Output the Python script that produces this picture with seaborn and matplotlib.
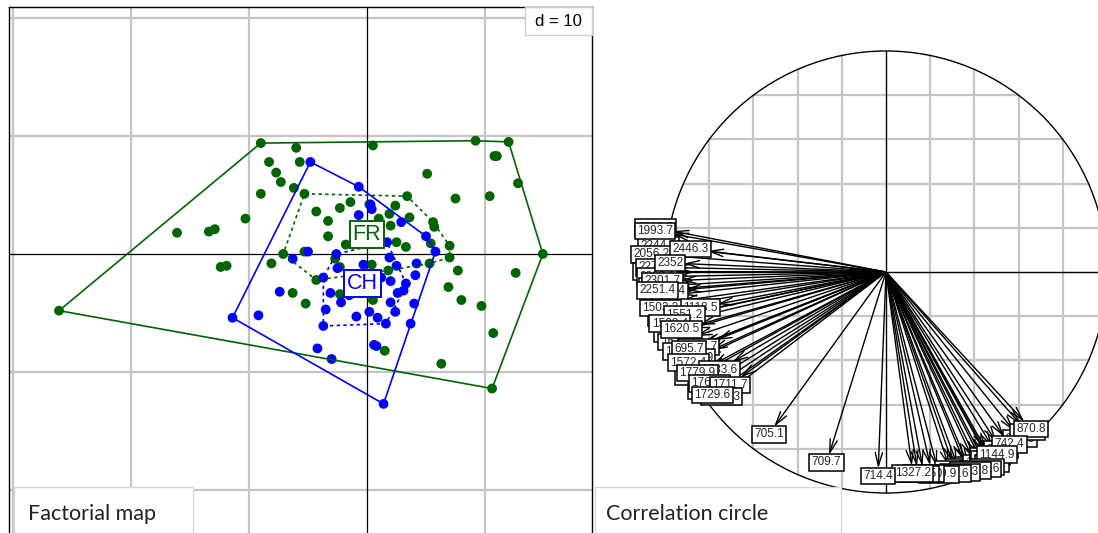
import numpy as np
import pandas as pd
import matplotlib
matplotlib.use("Agg")
import matplotlib.pyplot as plt
from matplotlib.patches import Rectangle, Circle
import seaborn as sns

# ---------------- data ----------------
fr_x = [-26.1, -9.0, -6.0, -8.3, -5.7, -7.7, -7.3, -6.2, -9.0, -5.3,
        -10.3, -16.1, -13.4, -12.9, -4.3, -2.3, -1.4, -3.3, -3.3, -1.8,
        -7.1, -5.3, -8.1, -12.4, -11.9, -2.7, 0.5, 9.2, 12.0, 10.8,
        11.0, 5.1, 12.8, 3.4, 7.5, 10.4, 0.2, 2.4, 1.9, 1.0,
        3.6, 2.0, 5.6, 5.7, 5.4, 2.5, 3.3, 7.0, 14.9, 7.0,
        5.3, 7.7, -4.3, -6.3, -5.2, -2.3, 12.6, 6.9, 8.0, 9.7,
        10.7, 6.3, 10.6, 1.8, 0.4, 0.5, 1.5, -2.3]
fr_y = [-4.8, 9.4, 9.0, 7.8, 7.8, 6.9, 6.1, 5.6, 5.1, 5.1,
        3.0, 1.8, 1.9, 2.1, 3.6, 3.9, 4.4, 2.8, 1.5, 0.8,
        0.0, 0.2, -0.8, -1.1, -1.0, -0.4, 9.2, 9.6, 9.5, 8.3,
        8.3, 6.8, 6.0, 4.9, 4.7, 4.9, 4.2, 4.1, 3.4, 3.0,
        3.1, 2.4, 2.7, 2.3, 0.9, 1.0, 0.6, 0.7, 0.0, -0.3,
        -0.8, -1.4, -2.2, -3.3, -4.2, -3.4, -1.6, -2.8, -3.9, -4.4,
        -6.7, -9.3, -11.4, -1.4, -0.9, -3.9, -8.2, -1.1]
ch_x = [-4.8, -0.7, 0.3, 0.4, -0.7, 2.9, 5.0, 5.8, 1.7, -6.3,
        -5.0, -2.6, -2.5, -3.7, -0.3, 1.9, 2.5, 4.2, 4.1, 3.3,
        3.1, 2.6, 2.0, 2.4, 4.0, 3.7, -7.4, -3.1, -2.2, -1.5,
        -3.5, -0.9, 0.2, 0.9, 1.6, -3.7, -9.2, -11.4, -4.2, -3.0,
        0.6, 0.8, 1.4, 2.0, 1.2]
ch_y = [7.8, 5.7, 4.2, 3.8, 3.3, 2.7, 1.5, 0.2, 1.0, -0.4,
        0.2, 0.0, -1.2, -2.0, -0.9, -0.3, -1.0, -0.8, -1.8, -2.5,
        -3.1, -3.3, -4.1, -4.9, -4.2, -5.9, -3.2, -3.3, -4.1, -3.5,
        -4.7, -5.3, -4.9, -5.4, -5.9, -6.1, -5.2, -5.4, -8.0, -8.9,
        -7.7, -7.8, -12.7, -2.3, -2.0]
classes = ["FR", "CH"]
class_colors = {"FR": "#006400", "CH": "#0000FF"}
hull_levels = [1.0, 0.5]

var_labels = [
    "2013.6", "2244.6", "2056.2", "2347.3", "2276.5", "2398.1", "2180.3", "2120.9",
    "1465.0", "1401.4", "1452.7", "1635.2", "1681.3", "1744.5", "1591.8",
    "1993.7", "2446.3", "2352", "2301.7", "2263.4", "2251.4", "1118.5", "1503.3",
    "1551.2", "1528.4", "1620.5", "1647.7", "1700.9", "695.7", "1572.4", "1783.6",
    "1779.9", "1762.7", "1711.7", "1733.3", "1729.6",
    "1083.0", "1062.5", "1125.6", "1245.9", "932.8", "905.5", "1150.1", "1160.2",
    "864.1", "870.8", "742.4", "977.1", "962.2", "1144.9", "997.7", "1016.6",
    "1035.8", "1053.3", "1101.6", "1190.9", "1316.0", "1301.5", "1327.2",
    "714.4", "709.7", "705.1"]
var_x = [
    -0.965, -0.951, -0.985, -0.975, -0.960, -0.955, -0.948, -0.930,
    -0.925, -0.905, -0.880, -0.860, -0.840, -0.800, -0.755,
    -0.967, -0.808, -0.916, -0.932, -0.912, -0.957, -0.764, -0.942,
    -0.833, -0.901, -0.848, -0.769, -0.790, -0.825, -0.821, -0.696,
    -0.790, -0.745, -0.658, -0.699, -0.739,
    0.390, 0.350, 0.300, 0.200, 0.500, 0.580, 0.420, 0.450,
    0.610, 0.626, 0.535, 0.445, 0.459, 0.482, 0.440, 0.413,
    0.368, 0.322, 0.284, 0.231, 0.165, 0.140, 0.117,
    -0.035, -0.258, -0.506]
var_y = [
    0.185, 0.110, 0.074, 0.002, 0.020, -0.020, -0.060, -0.100,
    -0.130, -0.190, -0.255, -0.290, -0.330, -0.440, -0.505,
    0.172, 0.095, 0.038, -0.038, -0.080, -0.077, -0.146, -0.151,
    -0.177, -0.215, -0.238, -0.308, -0.354, -0.323, -0.377, -0.408,
    -0.423, -0.469, -0.477, -0.531, -0.523,
    -0.840, -0.850, -0.860, -0.875, -0.770, -0.720, -0.830, -0.800,
    -0.690, -0.677, -0.746, -0.815, -0.831, -0.792, -0.848, -0.858,
    -0.865, -0.872, -0.878, -0.882, -0.878, -0.880, -0.877,
    -0.889, -0.828, -0.700]

grid_d = 10
corr_grid = 0.2

# ---------------- helpers ----------------
def convex_hull(points):
    pts = sorted(set(points))
    if len(pts) <= 2:
        return pts
    def cross(o, a, b):
        return (a[0]-o[0])*(b[1]-o[1]) - (a[1]-o[1])*(b[0]-o[0])
    lower, upper = [], []
    for p in pts:
        while len(lower) >= 2 and cross(lower[-2], lower[-1], p) <= 0:
            lower.pop()
        lower.append(p)
    for p in reversed(pts):
        while len(upper) >= 2 and cross(upper[-2], upper[-1], p) <= 0:
            upper.pop()
        upper.append(p)
    return lower[:-1] + upper[:-1]


def peeled_hull(points, frac):
    pts = list(points)
    n0 = len(pts)
    while len(pts) > n0 * frac and len(pts) > 3:
        h = set(convex_hull(pts))
        pts = [p for p in pts if p not in h]
    return convex_hull(pts)


# ---------------- figure ----------------
sns.set_theme(style="white")
plt.rcParams['font.family'] = ['Liberation Sans', 'DejaVu Sans']

W, H = 1098, 533
fig = plt.figure(figsize=(W/100, H/100), dpi=100)
fig.patch.set_facecolor("white")

# ---- left panel: factorial map ----
px_unit = 11.8
cx_px, cy_px = 367, 254
l_px, r_px, t_px, b_px = 8.5, 592, 7, 545
ax1 = fig.add_axes([l_px/W, 1 - b_px/H, (r_px-l_px)/W, (b_px-t_px)/H])
ax1.set_xlim((l_px-cx_px)/px_unit, (r_px-cx_px)/px_unit)
ax1.set_ylim((cy_px-b_px)/px_unit, (cy_px-t_px)/px_unit)
ax1.set_xticks([]); ax1.set_yticks([])
for s in ax1.spines.values():
    s.set_color("black"); s.set_linewidth(1.0); s.set_visible(True)

for g in [-30, -20, -10, 10]:
    ax1.axvline(g, color="#C4C4C4", lw=1.6, zorder=0)
for g in [20, 10, -10, -20]:
    ax1.axhline(g, color="#C4C4C4", lw=1.6, zorder=0)
ax1.axvline(0, color="black", lw=0.9, zorder=1)
ax1.axhline(0, color="black", lw=0.9, zorder=1)

df = pd.DataFrame({
    "x": fr_x + ch_x,
    "y": fr_y + ch_y,
    "cls": ["FR"]*len(fr_x) + ["CH"]*len(ch_x)})

sns.scatterplot(data=df, x="x", y="y", hue="cls", palette=class_colors,
                hue_order=classes, s=50, linewidth=0, legend=False, ax=ax1, zorder=3)
ax1.set_xlabel(""); ax1.set_ylabel("")

for cls in classes:
    sub = df[df.cls == cls]
    pts = list(zip(sub.x, sub.y))
    for lev in hull_levels:
        h = convex_hull(pts) if lev == 1.0 else peeled_hull(pts, lev)
        hx = [p[0] for p in h] + [h[0][0]]
        hy = [p[1] for p in h] + [h[0][1]]
        ls = "-" if lev == 1.0 else (0, (2, 2))
        ax1.plot(hx, hy, color=class_colors[cls], lw=1.2, ls=ls, zorder=4)

for cls in classes:
    sub = df[df.cls == cls]
    ax1.text(sub.x.mean(), sub.y.mean(), cls, color=class_colors[cls],
             fontsize=15.5, ha="center", va="center", zorder=6,
             bbox=dict(boxstyle="square,pad=0.14", fc="white",
                       ec=class_colors[cls], lw=1.4))

# d = 10 box
fig.add_artist(Rectangle((525/W, 1-35/H), 67/W, 28/H, transform=fig.transFigure,
                         fc="white", ec="#D0D0D0", lw=1.0, zorder=5))
fig.text(558/W, 1-21/H, "d = %d" % grid_d, fontsize=12, ha="center",
         va="center", color="black", zorder=6)

# ---- right panel: correlation circle ----
r_unit = 221.0
ccx, ccy = 886, 272
al, ar = 596, 1098
ax2 = fig.add_axes([al/W, 0, (ar-al)/W, 1])
ax2.set_xlim((al-ccx)/r_unit, (ar-ccx)/r_unit)
ax2.set_ylim((ccy-H)/r_unit, ccy/r_unit)
ax2.axis("off")

ticks = np.round(np.arange(-1 + corr_grid, 1 - 1e-9, corr_grid), 6)
for v in ticks:
    if abs(v) < 1e-9:
        continue
    e = np.sqrt(1 - v*v)
    ax2.plot([v, v], [-e, e], color="#C4C4C4", lw=1.6, zorder=0)
    ax2.plot([-e, e], [v, v], color="#C4C4C4", lw=1.6, zorder=0)
ax2.plot([-1, 1], [0, 0], color="black", lw=1.0, zorder=1)
ax2.plot([0, 0], [-1, 1], color="black", lw=1.0, zorder=1)
ax2.add_patch(Circle((0, 0), 1, fill=False, ec="black", lw=1.0, zorder=1))

for x, y in zip(var_x, var_y):
    ax2.annotate("", xy=(x, y), xytext=(0, 0),
                 arrowprops=dict(arrowstyle="->,head_length=0.8,head_width=0.22",
                                 lw=1.0, color="black", shrinkA=0, shrinkB=0),
                 zorder=2)

for lab, x, y in zip(var_labels, var_x, var_y):
    n_dig = sum(c.isdigit() for c in lab)
    wpx = n_dig * 5.0 + 2.5 * (len(lab) - n_dig) + 7
    hpx = 15
    r = np.hypot(x, y)
    ux, uy = x / r, y / r
    t = min((wpx/2) / max(abs(ux), 1e-6), (hpx/2) / max(abs(uy), 1e-6))
    lx = x + ux * t / r_unit
    ly = y + uy * t / r_unit
    ax2.text(lx, ly, lab, fontsize=8.5, ha="center", va="center", zorder=4,
             family=["Liberation Sans Narrow", "Liberation Sans", "DejaVu Sans"],
             bbox=dict(boxstyle="square,pad=0.2", fc="white", ec="black", lw=1.1))

# ---- bottom captions ----
fig.add_artist(Rectangle((14/W, 0), (193-14)/W, 46/H, transform=fig.transFigure,
                         fc="white", ec="#D9D9D9", lw=1.0, zorder=5))
fig.text(28/W, 1-514/H, "Factorial map", fontsize=15.5, family=["Lato", "DejaVu Sans"],
         ha="left", va="center", color="#222222", zorder=6)
fig.add_artist(Rectangle((595/W, 0), (841-595)/W, 46/H, transform=fig.transFigure,
                         fc="white", ec="#D9D9D9", lw=1.0, zorder=5))
fig.text(606/W, 1-514/H, "Correlation circle", fontsize=15.5, family=["Lato", "DejaVu Sans"],
         ha="left", va="center", color="#222222", zorder=6)

fig.savefig("out.png", dpi=100)
